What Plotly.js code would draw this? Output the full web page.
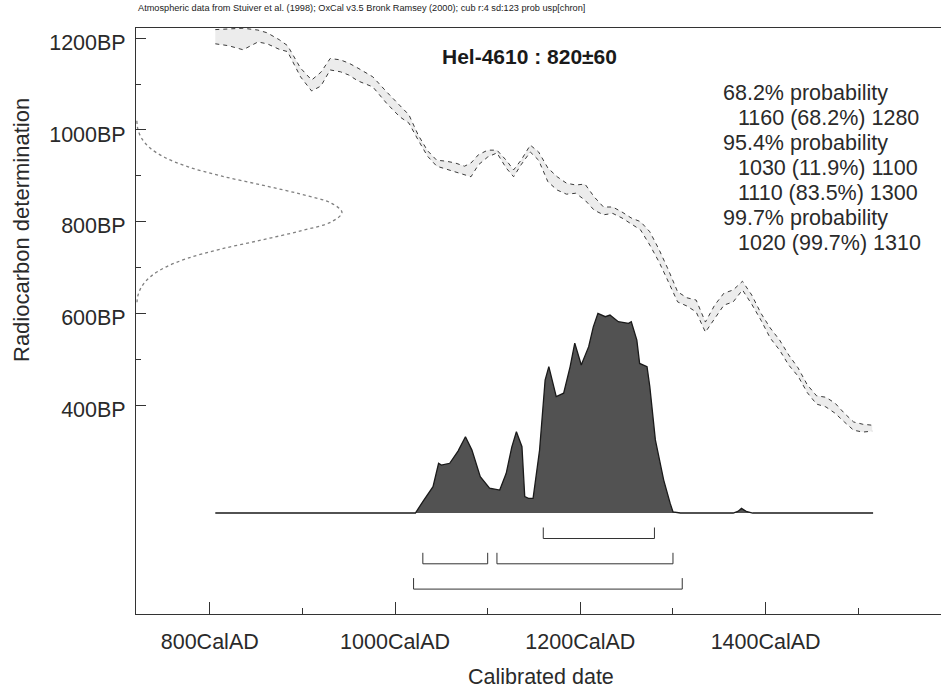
<!DOCTYPE html>
<html>
<head>
<meta charset="utf-8">
<script src="https://cdn.plot.ly/plotly-3.0.1.min.js"></script>
<style>html,body{margin:0;padding:0;background:#fff}#chart{width:941px;height:688px}</style>
</head>
<body>
<div id="chart"></div>
<script>
// ---------- data ----------
const calYears = [806, 820, 836, 852, 862, 875, 884, 898, 910, 920, 930, 941, 950, 960, 976, 991, 1005, 1015, 1025, 1035, 1045, 1055, 1065, 1075, 1082, 1090, 1100, 1110, 1120, 1128, 1136, 1146, 1155, 1165, 1175, 1185, 1195, 1205, 1215, 1225, 1235, 1245, 1255, 1265, 1275, 1285, 1295, 1305, 1315, 1325, 1335, 1345, 1355, 1365, 1375, 1385, 1395, 1405, 1415, 1425, 1435, 1445, 1455, 1465, 1475, 1485, 1495, 1505, 1515];
const calUpper = [1219, 1221, 1222, 1218, 1212, 1197, 1184, 1135, 1109, 1126, 1156, 1153, 1146, 1135, 1116, 1083, 1054, 1033, 989, 955, 934, 932, 928, 921, 928, 946, 956, 956, 934, 913, 934, 967, 952, 917, 898, 884, 880, 882, 854, 832, 832, 821, 808, 800, 778, 739, 695, 647, 634, 629, 581, 618, 644, 651, 670, 640, 600, 568, 542, 509, 481, 444, 420, 417, 404, 382, 363, 358, 356];
const calLower = [1188, 1184, 1175, 1192, 1188, 1176, 1171, 1116, 1085, 1096, 1131, 1127, 1120, 1107, 1094, 1058, 1029, 1015, 978, 943, 921, 915, 909, 903, 898, 924, 941, 950, 917, 898, 924, 952, 934, 887, 869, 860, 862, 847, 825, 815, 818, 808, 795, 782, 749, 712, 669, 625, 616, 603, 559, 590, 618, 625, 651, 620, 585, 546, 520, 487, 463, 427, 402, 396, 382, 363, 345, 341, 343];

// radiocarbon measurement distribution (BP, relative density)
const c14BP = [1020, 1000, 980, 960, 940, 920, 900, 880, 860, 840, 820, 800, 780, 760, 740, 720, 700, 680, 660, 640, 620];
const c14Dens = [0.004, 0.01, 0.03, 0.07, 0.14, 0.25, 0.41, 0.61, 0.80, 0.95, 1.0, 0.95, 0.80, 0.61, 0.41, 0.25, 0.14, 0.07, 0.03, 0.01, 0.004];

// calibrated (posterior) distribution (cal AD, relative probability)
const postYears = [806, 1015, 1022, 1030, 1041, 1047, 1050, 1059, 1068, 1076, 1083, 1092, 1102, 1113, 1120, 1126, 1131, 1137, 1140, 1144, 1149, 1156, 1162, 1166, 1174, 1182, 1189, 1194, 1201, 1209, 1214, 1219, 1227, 1232, 1241, 1252, 1255, 1261, 1264, 1272, 1275, 1281, 1290, 1297, 1300, 1308, 1365, 1370, 1374, 1379, 1386, 1516];
const postProb = [0, 0, 0, 0.057, 0.132, 0.249, 0.24, 0.249, 0.31, 0.382, 0.315, 0.182, 0.124, 0.115, 0.199, 0.33, 0.407, 0.332, 0.082, 0.073, 0.073, 0.315, 0.666, 0.733, 0.583, 0.6, 0.733, 0.851, 0.741, 0.833, 0.932, 1.0, 0.983, 0.991, 0.958, 0.95, 0.958, 0.866, 0.749, 0.733, 0.633, 0.366, 0.165, 0.048, 0.006, 0, 0, 0.008, 0.023, 0.008, 0, 0];

// calibrated ranges
const rangeRow = [0, 1, 1, 2];
const rangeStart = [1160, 1030, 1110, 1020];
const rangeEnd = [1280, 1100, 1300, 1310];

const probLines = ["68.2% probability", "1160 (68.2%) 1280", "95.4% probability", "1030 (11.9%) 1100", "1110 (83.5%) 1300", "99.7% probability", "1020 (99.7%) 1310"];
const probIndent = [0, 1, 0, 1, 1, 0, 1];

const xTickVals = [800, 1000, 1200, 1400];
const xTickText = ["800CalAD", "1000CalAD", "1200CalAD", "1400CalAD"];
const xMinorVals = [900, 1100, 1300, 1500];
const yTickVals = [400, 600, 800, 1000, 1200];
const yTickText = ["400BP", "600BP", "800BP", "1000BP", "1200BP"];
const yMinorVals = [500, 700, 900, 1100];

const headerText = "Atmospheric data from Stuiver et al. (1998); OxCal v3.5 Bronk Ramsey (2000); cub r:4 sd:123 prob usp[chron]";
const titleText = "Hel-4610 : 820±60";
const xTitle = "Calibrated date";
const yTitle = "Radiocarbon determination";

// ---------- layout helpers ----------
const FONT = "Liberation Sans, Arial, Helvetica, sans-serif";
const L = 136, R = 0, T = 28, B = 74, W = 941, H = 688;
const plotW = W - L - R, plotH = H - T - B;
const xp = px => (px - L) / plotW;
const yp = py => (H - B - py) / plotH;

const traces = [];
// calibration curve band
traces.push({x: calYears, y: calLower, mode: 'lines', line: {color: 'rgba(0,0,0,0)', width: 0}, hoverinfo: 'skip'});
traces.push({x: calYears, y: calUpper, mode: 'lines', fill: 'tonexty', fillcolor: '#ececec', line: {color: 'rgba(0,0,0,0)', width: 0}, hoverinfo: 'skip'});
traces.push({x: calYears, y: calUpper, mode: 'lines', line: {color: '#3a3a3a', width: 1, dash: '4px,4px'}});
traces.push({x: calYears, y: calLower, mode: 'lines', line: {color: '#3a3a3a', width: 1, dash: '4px,4px'}});
// measurement distribution on y axis
traces.push({x: c14Dens, y: c14BP, xaxis: 'x2', yaxis: 'y', mode: 'lines', line: {color: '#808080', width: 1.3, dash: 'dot', shape: 'spline'}});
// posterior
traces.push({x: postYears, y: postProb, yaxis: 'y2', mode: 'lines', fill: 'tozeroy', fillcolor: '#525252', line: {color: '#1a1a1a', width: 1.3}});
// range brackets
const rowY0 = 538.5, rowGap = 25.3, tickH = 11;
for (let i = 0; i < rangeStart.length; i++) {
  const yy = rowY0 + rowGap * rangeRow[i];
  traces.push({x: [rangeStart[i], rangeStart[i], rangeEnd[i], rangeEnd[i]], y: [yy - tickH, yy, yy, yy - tickH], yaxis: 'y3', mode: 'lines', line: {color: '#333', width: 1}});
}

const annotations = [];
annotations.push({text: headerText, xref: 'paper', yref: 'paper', x: xp(136), y: yp(8), xanchor: 'left', yanchor: 'middle', showarrow: false, font: {family: FONT, size: 9.2, color: '#222'}});
annotations.push({text: titleText, xref: 'paper', yref: 'paper', x: xp(529), y: yp(57), xanchor: 'center', yanchor: 'middle', showarrow: false, font: {family: FONT, size: 21, color: '#1a1a1a', weight: 'bold'}});
for (let i = 0; i < probLines.length; i++) {
  annotations.push({text: probLines[i], xref: 'paper', yref: 'paper', x: xp(probIndent[i] ? 736 : 721), y: yp(93 + 25 * i), xanchor: 'left', yanchor: 'middle', showarrow: false, font: {family: FONT, size: 21.5, color: '#2a2a2a'}});
}
annotations.push({text: xTitle, xref: 'paper', yref: 'paper', x: xp(541), y: yp(677), xanchor: 'center', yanchor: 'middle', showarrow: false, font: {family: FONT, size: 21.5, color: '#2a2a2a'}});
annotations.push({text: yTitle, xref: 'paper', yref: 'paper', x: xp(21), y: yp(230), xanchor: 'center', yanchor: 'middle', textangle: -90, showarrow: false, font: {family: FONT, size: 22, color: '#2a2a2a'}});

const layout = {
  width: W, height: H,
  margin: {l: L, r: R, t: T, b: B, pad: 0},
  paper_bgcolor: '#fff', plot_bgcolor: '#fff',
  showlegend: false, hovermode: false,
  font: {family: FONT, color: '#2a2a2a', size: 21.5},
  xaxis: {
    range: [720.4, 1589.3], showgrid: false, zeroline: false,
    showline: true, linecolor: '#333', linewidth: 1, mirror: true,
    ticks: 'inside', ticklen: 12, tickwidth: 1, tickcolor: '#333',
    tickmode: 'array', tickvals: xTickVals, ticktext: xTickText,
    tickfont: {family: FONT, size: 21.5, color: '#2a2a2a'},
    ticklabelstandoff: 8,
    minor: {tickmode: 'array', tickvals: xMinorVals, ticks: 'inside', ticklen: 6, tickwidth: 1, tickcolor: '#333', showgrid: false}
  },
  yaxis: {
    range: [-55.9, 1222.5], showgrid: false, zeroline: false,
    showline: true, linecolor: '#333', linewidth: 1,
    ticks: 'inside', ticklen: 10, tickwidth: 1, tickcolor: '#333',
    tickmode: 'array', tickvals: yTickVals, ticktext: yTickText,
    tickfont: {family: FONT, size: 21.5, color: '#2a2a2a'},
    ticklabelstandoff: 5, ticklabelshift: 4,
    minor: {tickmode: 'array', tickvals: yMinorVals, ticks: 'inside', ticklen: 5, tickwidth: 1, tickcolor: '#333', showgrid: false}
  },
  xaxis2: {overlaying: 'x', range: [0, 3.908], visible: false, showgrid: false, zeroline: false},
  yaxis2: {overlaying: 'y', range: [-0.5057, 2.4286], visible: false, showgrid: false, zeroline: false},
  yaxis3: {overlaying: 'y', range: [614, 28], visible: false, showgrid: false, zeroline: false},
  annotations: annotations
};

Plotly.newPlot('chart', traces, layout, {displayModeBar: false, staticPlot: true});
</script>
</body>
</html>
